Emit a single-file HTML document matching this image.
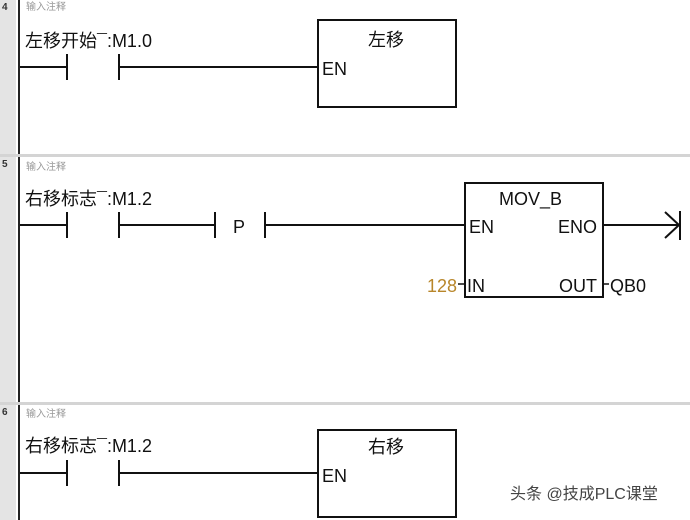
<!DOCTYPE html>
<html><head><meta charset="utf-8"><style>
html,body{margin:0;padding:0;background:#fff;}
svg{display:block;}
text{font-family:"Liberation Sans","Noto Sans CJK SC",sans-serif;}
</style></head><body>
<svg width="690" height="520" xmlns="http://www.w3.org/2000/svg">
<rect x="0" y="0" width="16" height="520" fill="#e4e4e4"/>
<line x1="19" y1="0" x2="19" y2="520" stroke="#222" stroke-width="2"/>
<rect x="0" y="154" width="690" height="3" fill="#d4d4d4"/>
<rect x="0" y="402" width="690" height="3" fill="#d4d4d4"/>
<text x="2" y="10" font-size="10" font-weight="bold" fill="#333">4</text>
<text x="2" y="167" font-size="10" font-weight="bold" fill="#333">5</text>
<text x="2" y="415" font-size="10" font-weight="bold" fill="#333">6</text>
<g font-size="10" fill="#999">
<text x="26" y="10">输入注释</text>
<text x="26" y="170">输入注释</text>
<text x="26" y="417">输入注释</text>
</g>
<g stroke="#111" stroke-width="2" fill="none">
<line x1="20" y1="67" x2="67" y2="67"/><line x1="67" y1="54" x2="67" y2="80"/>
<line x1="119" y1="54" x2="119" y2="80"/><line x1="119" y1="67" x2="318" y2="67"/>
<rect x="318" y="20" width="138" height="87"/>
<line x1="20" y1="225" x2="67" y2="225"/><line x1="67" y1="212" x2="67" y2="238"/>
<line x1="119" y1="212" x2="119" y2="238"/><line x1="119" y1="225" x2="215" y2="225"/>
<line x1="215" y1="212" x2="215" y2="238"/><line x1="265" y1="212" x2="265" y2="238"/>
<line x1="265" y1="225" x2="465" y2="225"/>
<rect x="465" y="183" width="138" height="114"/>
<line x1="603" y1="225" x2="680" y2="225"/>
<line x1="680" y1="211" x2="680" y2="240"/>
<polyline points="665,212 679,225 665,238"/>
<line x1="458" y1="284" x2="465" y2="284" stroke-width="1.5"/>
<line x1="603" y1="284" x2="609" y2="284" stroke-width="1.5"/>
<line x1="20" y1="473" x2="67" y2="473"/><line x1="67" y1="460" x2="67" y2="486"/>
<line x1="119" y1="460" x2="119" y2="486"/><line x1="119" y1="473" x2="318" y2="473"/>
<rect x="318" y="430" width="138" height="87"/>
</g>
<g font-size="18" fill="#111">
<text x="25" y="47">左移开始¯:M1.0</text>
<text x="25" y="205">右移标志¯:M1.2</text>
<text x="25" y="452">右移标志¯:M1.2</text>
<text x="368" y="46">左移</text>
<text x="322" y="75">EN</text>
<text x="368" y="453">右移</text>
<text x="322" y="482">EN</text>
<text x="233" y="233">P</text>
<text x="499" y="205">MOV_B</text>
<text x="469" y="233">EN</text>
<text x="558" y="233">ENO</text>
<text x="467" y="292">IN</text>
<text x="559" y="292">OUT</text>
<text x="610" y="292">QB0</text>
<text x="427" y="292" fill="#b8862a">128</text>
</g>
<text x="510" y="499" font-size="16" fill="#444">头条 @技成PLC课堂</text>
</svg>
</body></html>
